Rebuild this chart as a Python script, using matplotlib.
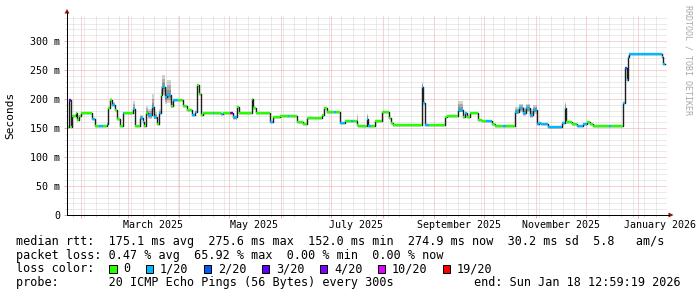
import numpy as np
import pandas as pd
import matplotlib
matplotlib.use("Agg")
import matplotlib.pyplot as plt
import matplotlib.dates as mdates
from matplotlib.ticker import FixedLocator, MultipleLocator, NullFormatter
from matplotlib.patches import Rectangle, Polygon
from matplotlib.lines import Line2D

plt.rcParams['font.family'] = ['DejaVu Sans Mono']

W, H = 697, 297

# window of the graph: last 360 days
t_start = "2025-01-23 12:59:19"
t_end = "2026-01-18 12:59:19"
base = pd.Timestamp("2025-01-01")

# median rtt steps: day (days since 2025-01-01), median in ms, lost pings of 20,
# smoke spread above / below the median in ms
seg_day = [22.5, 23.7, 24.9, 25.5, 27.9, 28.5, 29.7, 30.9, 37.5, 39.3,
           42.0, 44.0, 46.5, 47.1, 48.3, 49.5, 51.3, 52.5, 54.3, 56.1,
           56.7, 62.1, 63.3, 66.3, 68.1, 68.7, 69.9, 71.1, 73.5, 74.7,
           76.5, 77.7, 78.9, 79.5, 81.3, 82.5, 84.9, 86.1, 89.0, 92.1,
           94.5, 97.5, 99.3, 100.5, 101.7, 102.9, 104.1, 110.0, 111.0, 115.0,
           116.0, 120.3, 121.2, 122.1, 124.5, 125.7, 133.5, 134.1, 135.9, 144.3,
           146.1, 150.3, 155.0, 156.0, 160.5, 164.1, 166.5, 175.5, 176.5, 178.5,
           183.0, 184.0, 186.3, 189.3, 193.0, 194.0, 196.5, 197.1, 202.5, 203.1,
           205.0, 207.3, 211.5, 215.7, 217.0, 218.1, 235.5, 236.4, 237.3, 240.0,
           249.3, 250.5, 257.1, 260.1, 261.5, 262.5, 264.3, 269.1, 271.5, 274.0,
           277.5, 279.3, 284.0, 286.0, 291.3, 293.5, 296.0, 298.0, 300.5, 302.0,
           304.5, 306.0, 307.0, 311.1, 319.5, 321.3, 321.9, 325.5, 328.5, 332.1,
           334.5, 336.3, 338.1, 348.0, 349.0, 356.1, 357.3, 358.5, 359.1, 359.7,
           379.5, 380.1]
median_ms = [152, 198, 152, 170, 176, 164, 170, 176, 165, 153,
             153, 153, 157, 184, 198, 190, 181, 165, 153, 176,
             176, 182, 153, 167, 160, 153, 176, 172, 186, 169,
             157, 176, 207, 221, 203, 207, 188, 198, 198, 188,
             181, 172, 178, 224, 208, 172, 176, 176, 176, 175,
             176, 176, 176, 169, 186, 176, 200, 184, 176, 160,
             169, 171, 171, 171, 160, 157, 167, 172, 184, 178,
             178, 178, 159, 162, 162, 162, 155, 153, 165, 153,
             153, 162, 178, 167, 159, 155, 221, 193, 155, 155,
             169, 171, 181, 169, 176, 169, 176, 164, 162, 162,
             157, 153, 153, 153, 178, 184, 176, 184, 172, 181,
             157, 159, 157, 152, 159, 184, 160, 157, 153, 157,
             160, 157, 153, 153, 153, 193, 253, 233, 272, 277,
             272, 260]
loss_n = [0, 3, 0, 0, 0, 0, 0, 0, 1, 0,
          1, 0, 1, 0, 0, 1, 0, 0, 0, 1,
          0, 1, 0, 1, 1, 0, 0, 1, 1, 1,
          0, 1, 0, 1, 1, 1, 0, 1, 0, 0,
          0, 1, 1, 0, 0, 0, 0, 1, 0, 1,
          0, 19, 3, 1, 0, 0, 0, 0, 0, 1,
          0, 0, 1, 0, 0, 0, 0, 0, 0, 0,
          1, 0, 1, 0, 1, 0, 0, 0, 1, 1,
          0, 0, 0, 0, 0, 0, 1, 1, 1, 0,
          0, 0, 1, 0, 1, 0, 0, 0, 0, 1,
          0, 0, 1, 0, 1, 1, 1, 1, 1, 1,
          1, 1, 1, 1, 1, 1, 0, 0, 1, 1,
          0, 0, 0, 1, 0, 1, 2, 1, 1, 1,
          1, 1]
smoke_up = [0, 0, 0, 0, 0, 0, 0, 0, 0, 0,
            0, 0, 0, 0, 4, 4, 0, 0, 0, 0,
            0, 14, 0, 6, 4, 0, 12, 10, 22, 8,
            0, 6, 15, 20, 18, 25, 6, 0, 0, 0,
            0, 0, 0, 0, 0, 0, 0, 0, 0, 0,
            0, 0, 0, 0, 0, 0, 0, 0, 0, 0,
            0, 0, 0, 0, 0, 0, 0, 0, 0, 0,
            0, 0, 0, 0, 0, 0, 20, 0, 10, 0,
            0, 0, 0, 0, 0, 0, 8, 0, 0, 0,
            0, 0, 15, 0, 0, 0, 0, 0, 0, 0,
            0, 0, 0, 0, 8, 8, 10, 8, 10, 8,
            0, 0, 0, 0, 0, 10, 0, 0, 0, 0,
            0, 0, 0, 0, 0, 0, 0, 0, 0, 0,
            0, 0]
smoke_dn = [0, 0, 0, 0, 0, 0, 0, 0, 0, 0,
            0, 0, 0, 0, 0, 0, 0, 0, 0, 0,
            0, 3, 0, 3, 2, 0, 4, 6, 8, 4,
            0, 3, 10, 14, 12, 14, 4, 0, 0, 0,
            0, 0, 0, 0, 0, 0, 0, 0, 0, 0,
            0, 0, 0, 5, 0, 0, 0, 0, 0, 0,
            0, 0, 0, 0, 0, 0, 0, 0, 0, 0,
            0, 0, 0, 0, 0, 0, 0, 0, 0, 0,
            0, 0, 0, 0, 0, 0, 0, 0, 0, 0,
            0, 0, 4, 0, 0, 0, 0, 0, 0, 0,
            0, 0, 0, 0, 4, 6, 6, 6, 4, 6,
            0, 0, 0, 0, 0, 0, 0, 0, 0, 0,
            0, 0, 0, 0, 0, 0, 0, 0, 0, 0,
            0, 0]
data_end_day = 381.3

loss_levels = [0, 1, 2, 3, 4, 10, 19]
loss_labels = ["0", "1/20", "2/20", "3/20", "4/20", "10/20", "19/20"]
loss_colors = ["#26ff00", "#00b8ff", "#0059ff", "#5e00ff", "#7e00ff", "#dd00ff", "#ff0000"]

y_ticks = [0, 50, 100, 150, 200, 250, 300]
y_tick_labels = ["0", "50 m", "100 m", "150 m", "200 m", "250 m", "300 m"]
month_labels = ["March 2025", "May 2025", "July 2025", "September 2025",
                "November 2025", "January 2026"]
month_label_at = ["2025-03-16", "2025-05-16", "2025-07-16", "2025-09-16",
                  "2025-11-16", "2026-01-16"]

legend_rows = [
    "median rtt:  175.1 ms avg  275.6 ms max  152.0 ms min  274.9 ms now  30.2 ms sd  5.8   am/s",
    "packet loss: 0.47 % avg  65.92 % max  0.00 % min  0.00 % now",
    "loss color:",
    "probe:       20 ICMP Echo Pings (56 Bytes) every 300s",
]
end_text = "end: Sun Jan 18 12:59:19 2026"


def fx(x):
    return x / W


def fy(y):
    return 1 - y / H


fig = plt.figure(figsize=(W / 100, H / 100), dpi=100)
fig.patch.set_facecolor("white")
ax = fig.add_axes([fx(67), fy(215), 600 / W, 200 / H])

starts = base + pd.to_timedelta(seg_day, unit="D")
ends = list(starts[1:]) + [base + pd.Timedelta(days=data_end_day)]

# smoke
for s, e, v, up, dn in zip(starts, ends, median_ms, smoke_up, smoke_dn):
    if up == 0 and dn == 0:
        continue
    for frac in [1.0, 0.66, 0.33]:
        ax.fill_between([s, e], v - dn * frac, v + up * frac, color="black",
                        alpha=0.17, lw=0, zorder=2)

# dark median line
ax.step(list(starts) + [ends[-1]], median_ms + [median_ms[-1]], where="post",
        color="#1e1e1e", lw=1.0, zorder=3)

# median coloured by loss
col_of = dict(zip(loss_levels, loss_colors))
ax.hlines(median_ms, starts, ends, colors=[col_of[n] for n in loss_n],
          lw=1.7, zorder=4, capstyle="butt")

ax.set_xlim(pd.Timestamp(t_start), pd.Timestamp(t_end))
ax.set_ylim(0, 200 / 0.58)

ax.yaxis.set_major_locator(FixedLocator(y_ticks))
ax.yaxis.set_minor_locator(MultipleLocator(10))
ax.set_yticklabels(y_tick_labels)
ax.xaxis.set_major_locator(mdates.MonthLocator())
ax.xaxis.set_minor_locator(mdates.WeekdayLocator(byweekday=mdates.MO))
ax.xaxis.set_major_formatter(NullFormatter())

ax.set_axisbelow(True)
ax.grid(which="major", color="#f3a6a6", lw=0.72, ls=(0, (1, 1)))
ax.grid(which="minor", color="#d6d6d6", lw=0.72, ls=(0, (1, 1)))
ax.tick_params(which="major", direction="out", length=2.2, width=0.72,
               color="#f3a6a6", labelsize=7.2, pad=2.9)
ax.tick_params(which="minor", direction="out", length=1.4, width=0.72,
               color="#d6d6d6")

for sp in ["top", "right"]:
    ax.spines[sp].set_visible(False)
for sp in ["left", "bottom"]:
    ax.spines[sp].set_color("black")
    ax.spines[sp].set_linewidth(0.72)

for lab, at in zip(month_labels, month_label_at):
    t = ax.text(pd.Timestamp(at), -0.05, lab, transform=ax.get_xaxis_transform(),
                ha="center", va="center", fontsize=7.2)
# keep the last label inside the canvas like rrdtool does
t.set_transform(fig.transFigure)
t.set_position((fx(696), fy(225)))
t.set_ha("right")

# axis extensions and arrows
fig.add_artist(Line2D([fx(67), fx(67)], [fy(215), fy(13)], color="black", lw=0.72))
fig.add_artist(Line2D([fx(67), fx(669)], [fy(215), fy(215)], color="black", lw=0.72))
fig.add_artist(Polygon([(fx(64.5), fy(13.5)), (fx(69.5), fy(13.5)), (fx(67), fy(9))],
                       closed=True, color="#8b1010", lw=0))
fig.add_artist(Polygon([(fx(668.5), fy(212.5)), (fx(668.5), fy(217.5)), (fx(673.5), fy(215))],
                       closed=True, color="#8b1010", lw=0))

fig.text(fx(10), fy(115), "Seconds", rotation=90, ha="center", va="center", fontsize=8)
fig.text(fx(688), fy(5), "RRDTOOL / TOBI OETIKER", rotation=270, ha="center",
         va="top", fontsize=6, color="#a8a8a8")

# legend
baselines = [245.5, 259, 272.5, 286.3]
for txt, b in zip(legend_rows, baselines):
    fig.text(fx(16), fy(b), txt, ha="left", va="baseline", fontsize=8.5)
fig.text(fx(681), fy(baselines[3]), end_text, ha="right", va="baseline", fontsize=8.5)

bx = 109
for lab, c in zip(loss_labels, loss_colors):
    fig.add_artist(Rectangle((fx(bx), fy(273)), 7.5 / W, 8 / H, facecolor=c,
                             edgecolor="black", lw=0.72, transform=fig.transFigure))
    fig.text(fx(bx + 14.3), fy(baselines[2]), lab, ha="left", va="baseline", fontsize=8.5)
    bx = bx + 14.3 + len(lab) * 7.1 + 15.3

fig.savefig("out.png", dpi=100)
